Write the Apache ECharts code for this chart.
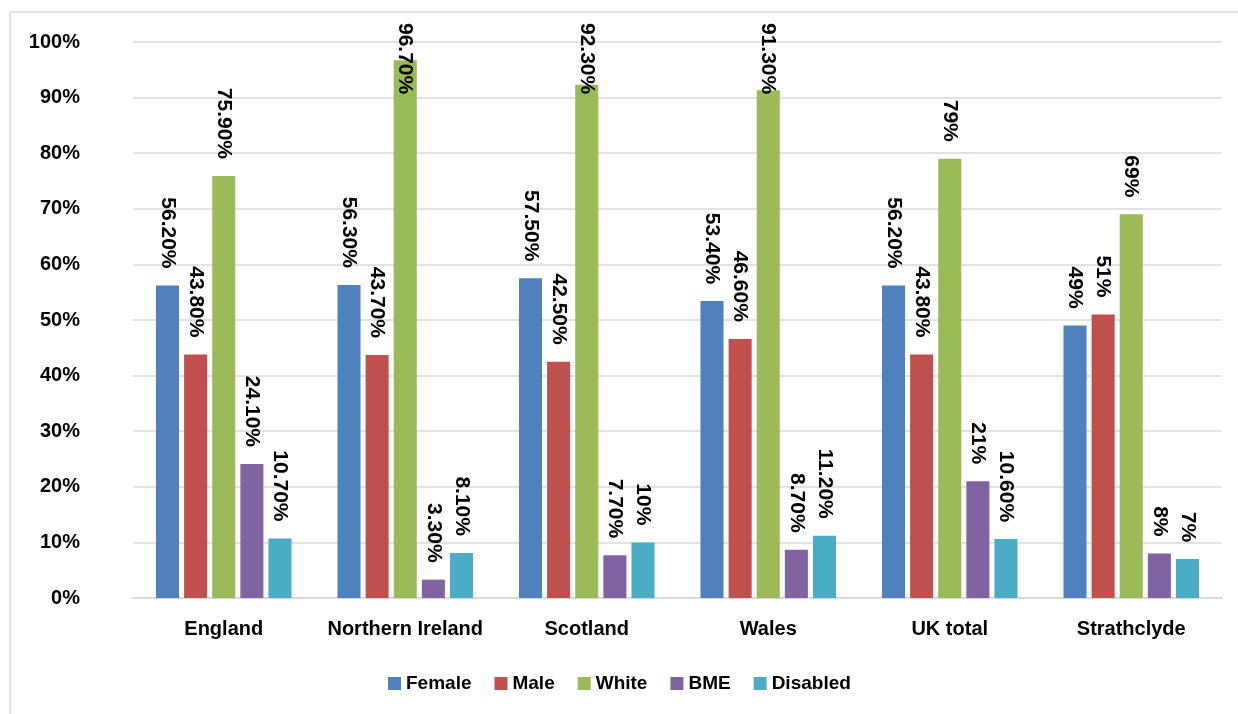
<!DOCTYPE html>
<html>
<head>
<meta charset="utf-8">
<script src="https://cdn.jsdelivr.net/npm/echarts@6/dist/echarts.min.js"></script>
<style>
html,body{margin:0;padding:0;background:#fff;}
#c{width:1238px;height:714px;}
</style>
</head>
<body>
<div id="c"></div>
<script>
var categories = ['England', 'Northern Ireland', 'Scotland', 'Wales', 'UK total', 'Strathclyde'];
var seriesNames = ['Female', 'Male', 'White', 'BME', 'Disabled'];
var female = [56.2, 56.3, 57.5, 53.4, 56.2, 49];
var male = [43.8, 43.7, 42.5, 46.6, 43.8, 51];
var white = [75.9, 96.7, 92.3, 91.3, 79, 69];
var bme = [24.1, 3.3, 7.7, 8.7, 21, 8];
var disabled = [10.7, 8.1, 10, 11.2, 10.6, 7];
var femaleLabels = ['56.20%', '56.30%', '57.50%', '53.40%', '56.20%', '49%'];
var maleLabels = ['43.80%', '43.70%', '42.50%', '46.60%', '43.80%', '51%'];
var whiteLabels = ['75.90%', '96.70%', '92.30%', '91.30%', '79%', '69%'];
var bmeLabels = ['24.10%', '3.30%', '7.70%', '8.70%', '21%', '8%'];
var disabledLabels = ['10.70%', '8.10%', '10%', '11.20%', '10.60%', '7%'];
var yTicks = ['0%', '10%', '20%', '30%', '40%', '50%', '60%', '70%', '80%', '90%', '100%'];

var values = [female, male, white, bme, disabled];
var labels = [femaleLabels, maleLabels, whiteLabels, bmeLabels, disabledLabels];
var colors = ['#4F81BD', '#C0504D', '#9BBB59', '#8064A2', '#4BACC6'];
var FONT = '"Liberation Sans", Arial, sans-serif';
var LABEL_TOP_LIMIT = 23;

var chart = echarts.init(document.getElementById('c'));
var series = seriesNames.map(function (name, i) {
  return {
    name: name,
    type: 'bar',
    data: values[i],
    barWidth: '12.7%',
    barGap: '22%',
    itemStyle: { color: colors[i] },
    label: {
      show: true,
      position: 'top',
      distance: 17,
      rotate: -90,
      align: 'right',
      verticalAlign: 'middle',
      color: '#000',
      fontWeight: 'bold',
      fontSize: 21,
      fontFamily: FONT,
      formatter: function (p) { return labels[i][p.dataIndex]; }
    },
    labelLayout: function (params) {
      var r = params.labelRect;
      if (r.y < LABEL_TOP_LIMIT) {
        return { y: LABEL_TOP_LIMIT + r.height };
      }
      return {};
    }
  };
});

chart.setOption({
  animation: false,
  color: colors,
  graphic: [{
    type: 'rect',
    shape: { x: 10, y: 12, width: 1240, height: 712 },
    style: { fill: 'none', stroke: '#d9d9d9', lineWidth: 1.5 },
    z: -10
  }],
  grid: { left: 133, right: 16, top: 42, bottom: 116, containLabel: false },
  legend: {
    data: seriesNames,
    left: 383,
    top: 669,
    icon: 'rect',
    itemWidth: 13,
    itemHeight: 13,
    itemGap: 23,
    textStyle: { color: '#000', fontWeight: 'bold', fontSize: 19, fontFamily: FONT }
  },
  xAxis: {
    type: 'category',
    data: categories,
    axisTick: { show: false },
    axisLine: { show: true, lineStyle: { color: '#d9d9d9', width: 2 } },
    axisLabel: { interval: 0, color: '#000', fontWeight: 'bold', fontSize: 20, fontFamily: FONT, margin: 21 }
  },
  yAxis: {
    type: 'value',
    min: 0,
    max: 100,
    interval: 10,
    axisLine: { show: false },
    axisTick: { show: false },
    splitLine: { lineStyle: { color: '#d9d9d9', width: 1.5 } },
    axisLabel: {
      color: '#000', fontWeight: 'bold', fontSize: 20, fontFamily: FONT, margin: 53,
      formatter: function (v) { return yTicks[Math.round(v / 10)]; }
    }
  },
  series: series
});
</script>
</body>
</html>
